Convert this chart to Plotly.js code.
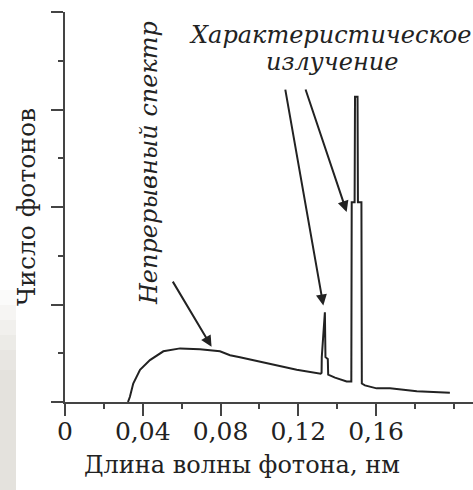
<!DOCTYPE html>
<html>
<head>
<meta charset="utf-8">
<script src="https://cdn.plot.ly/plotly-3.0.1.min.js"></script>
<style>html,body{margin:0;padding:0;background:#fff;}#chart{width:473px;height:490px;}</style>
</head>
<body>
<div id="chart"></div>
<script>
// Wavelength, nm
const wavelength = [0.0324, 0.0334, 0.0351, 0.0386, 0.0437, 0.0506, 0.0592, 0.0694, 0.0797, 0.0849, 0.0900, 0.1019, 0.1192, 0.1315,
  0.1320, 0.1321, 0.1333, 0.1337, 0.1340, 0.1352, 0.1354, 0.1389, 0.1449, 0.1473,
  0.1475, 0.1490, 0.1492, 0.1505, 0.1507, 0.1525, 0.1527, 0.1543, 0.1603, 0.1672, 0.1810, 0.1980];
// Photon count (relative units)
const photons = [0, 0.054, 0.19, 0.33, 0.43, 0.52, 0.55, 0.54, 0.52, 0.48, 0.46, 0.41, 0.33, 0.29,
  0.30, 0.46, 0.81, 0.92, 0.46, 0.44, 0.28, 0.25, 0.21, 0.21,
  2.05, 2.05, 3.13, 3.13, 2.05, 2.05, 0.19, 0.17, 0.14, 0.14, 0.11, 0.095];

const xTickVals = [0, 0.04, 0.08, 0.12, 0.16];
const xTickText = ['0', '0,04', '0,08', '0,12', '0,16'];
const yTickVals = [0, 1, 2, 3, 4];

const xTitle = 'Длина волны фотона, нм';
const yTitle = 'Число фотонов';
const labelContinuous = 'Непрерывный спектр';
const labelChar1 = 'Характеристическое';
const labelChar2 = 'излучение';

const serif = 'DejaVu Serif';
const ink = '#222';

const trace = {
  x: wavelength, y: photons, type: 'scatter', mode: 'lines',
  line: {color: ink, width: 2}, hoverinfo: 'skip', cliponaxis: false
};

const strip = [];
const stripSteps = [
  [290, 305, '#fbfbfa'], [305, 320, '#f6f5f3'], [320, 335, '#f1f0ed'], [335, 350, '#ecebe7'],
  [350, 370, '#e8e6e2'], [370, 490, '#e4e2dd']
];
function px2paperX(p){ return (p - 65) / 408; }
function px2paperY(p){ return (402 - p) / 390; }
stripSteps.forEach(s => strip.push({type:'rect', xref:'paper', yref:'paper', layer:'below',
  x0: px2paperX(0), x1: px2paperX(16), y0: px2paperY(s[1]), y1: px2paperY(s[0]),
  line:{width:0}, fillcolor: s[2]}));

const arrowBase = {showarrow:true, text:'', axref:'x', ayref:'y', xref:'x', yref:'y',
  arrowhead:2, arrowsize:1.1, arrowwidth:2, arrowcolor: ink, standoff:0, startstandoff:0};

const layout = {
  width: 473, height: 490,
  margin: {l: 65, r: 0, t: 12, b: 88},
  paper_bgcolor: '#fff', plot_bgcolor: '#fff',
  showlegend: false,
  font: {family: serif, color: ink, size: 24},
  xaxis: {
    range: [0, 0.2099], showgrid: false, zeroline: false,
    showline: true, linecolor: '#444', linewidth: 2,
    tickmode: 'array', tickvals: xTickVals, ticktext: xTickText,
    ticks: 'outside', ticklen: 12, tickwidth: 2, tickcolor: '#444',
    ticklabelstandoff: -6,
    tickfont: {family: serif, size: 25, color: ink},
    minor: {tick0: 0, dtick: 0.02, ticks: 'outside', ticklen: 5, tickwidth: 2, tickcolor: '#444', showgrid: false}
  },
  yaxis: {
    range: [0, 4], showgrid: false, zeroline: false,
    showline: true, linecolor: '#444', linewidth: 2,
    tickmode: 'array', tickvals: yTickVals, showticklabels: false,
    ticks: 'outside', ticklen: 12, tickwidth: 2, tickcolor: '#444',
    minor: {tick0: 0, dtick: 0.5, ticks: 'outside', ticklen: 5, tickwidth: 2, tickcolor: '#444', showgrid: false},
    title: {text: yTitle, font: {family: serif, size: 25, color: ink}, standoff: 8}
  },
  shapes: strip,
  annotations: [
    Object.assign({}, arrowBase, {x: 0.0754, y: 0.567, ax: 0.055, ay: 1.25}),
    Object.assign({}, arrowBase, {x: 0.1329, y: 0.99, ax: 0.1132, ay: 3.22}),
    Object.assign({}, arrowBase, {x: 0.1449, y: 1.95, ax: 0.1235, ay: 3.22}),
    {text: labelContinuous, x: 0.0432, y: 2.45, xref:'x', yref:'y', showarrow:false, textangle:-90,
      font:{family: serif, size: 24, style:'italic', color: ink}},
    {text: labelChar1, x: 0.1363, y: 3.764, xref:'x', yref:'y', showarrow:false,
      font:{family: serif, size: 24, style:'italic', color: ink}},
    {text: labelChar2, x: 0.1373, y: 3.487, xref:'x', yref:'y', showarrow:false,
      font:{family: serif, size: 24, style:'italic', color: ink}},
    {text: xTitle, x: px2paperX(242), y: px2paperY(465), xref:'paper', yref:'paper', showarrow:false,
      xanchor:'center', yanchor:'middle', font:{family: serif, size: 24, color: ink}}
  ]
};

Plotly.newPlot('chart', [trace], layout, {displayModeBar: false, staticPlot: true});
</script>
</body>
</html>
